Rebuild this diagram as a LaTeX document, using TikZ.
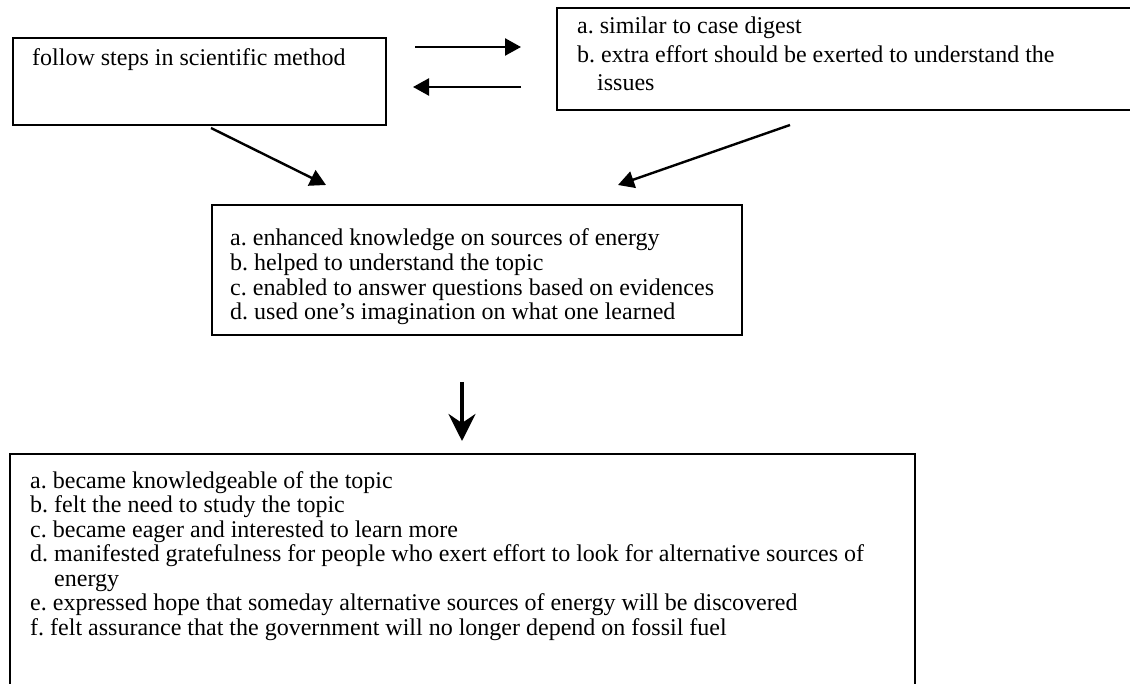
\documentclass[tikz,border=0pt]{standalone}
\usepackage{fontspec}
\setmainfont{Liberation Serif}
\usetikzlibrary{arrows.meta}
\frenchspacing
\begin{document}
\begin{tikzpicture}[x=1pt,y=-1pt,
  box/.style={draw, line width=1.6pt, inner sep=0pt, anchor=north west},
  txt/.style={anchor=base west, inner sep=0pt, font=\fontsize{24}{24.6}\selectfont},
  arr/.style={line width=2.4pt, -{Triangle[length=16pt,width=17pt]}},
  bigarr/.style={line width=3.6pt, -{Stealth[length=27pt,width=27pt,inset=9pt]}}]
\useasboundingbox (0,0) rectangle (1130,684);
\clip (0,0) rectangle (1130,684);
% boxes
\node[box, minimum width=373pt, minimum height=87pt] (b1) at (12,37) {};
\node[box, minimum width=600pt, minimum height=102pt] (b2) at (556,7) {};
\node[box, minimum width=530pt, minimum height=130pt] (b3) at (211,204) {};
\node[box, minimum width=905pt, minimum height=260pt] (b4) at (9,453) {};
% texts
\node[txt] (t1) at (32,66) {follow steps in scientific method};
\node[txt] (t2) at (577,34) {\fontsize{24}{28.5}\selectfont\begin{tabular}[t]{@{}l@{}}a. similar to case digest\\ b. extra effort should be exerted to understand the\\ \hspace{20pt}issues\end{tabular}};
\node[txt] (t3) at (230,246) {\begin{tabular}[t]{@{}l@{}}a. enhanced knowledge on sources of energy\\ b. helped to understand the topic\\ c. enabled to answer questions based on evidences\\ d. used one’s imagination on what one learned\end{tabular}};
\node[txt] (t4) at (30,488) {\begin{tabular}[t]{@{}l@{}}a. became knowledgeable of the topic\\ b. felt the need to study the topic\\ c. became eager and interested to learn more\\ d. manifested gratefulness for people who exert effort to look for alternative sources of\\ \hspace{24pt}energy\\ e. expressed hope that someday alternative sources of energy will be discovered\\ f. felt assurance that the government will no longer depend on fossil fuel\end{tabular}};
% arrow end points
\coordinate (r1s) at (415,47);
\coordinate (r1e) at (521,47);
\coordinate (l1s) at (521,87);
\coordinate (l1e) at (413,87);
\coordinate (d1s) at (211,128);
\coordinate (d1e) at (326,185);
\coordinate (d2s) at (790,125);
\coordinate (d2e) at (618,185);
\coordinate (v1s) at (462,382);
\coordinate (v1e) at (462,441);
% arrows
\draw[arr] (r1s) -- (r1e);
\draw[arr] (l1s) -- (l1e);
\draw[arr] (d1s) -- (d1e);
\draw[arr] (d2s) -- (d2e);
\draw[bigarr] (v1s) -- (v1e);
\end{tikzpicture}
\end{document}
